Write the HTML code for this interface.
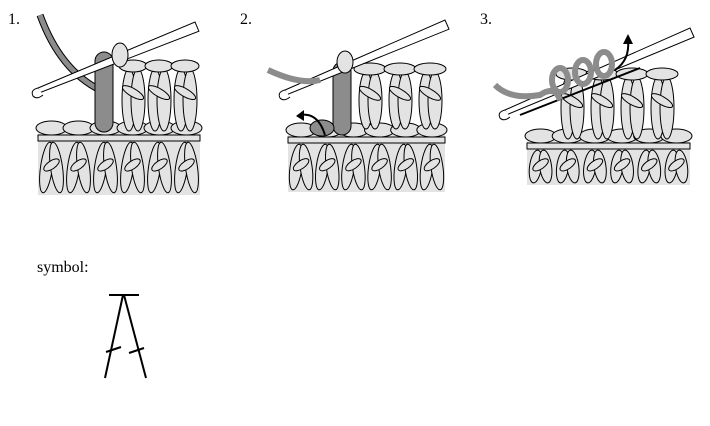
<!DOCTYPE html>
<html><head><meta charset="utf-8"><style>
body{margin:0;background:#fff;width:710px;height:426px;overflow:hidden}
svg{display:block}
text{font-family:"Liberation Serif",serif;font-size:16px;fill:#000}
</style></head><body>
<svg id="s" width="710" height="426" viewBox="0 0 710 426" xmlns="http://www.w3.org/2000/svg">
<text x="8" y="24">1.</text>
<text x="240" y="24">2.</text>
<text x="480" y="24">3.</text>
<text x="37" y="272">symbol:</text>
<g id="sym" stroke="#000" stroke-width="2" fill="none">
<line x1="109" y1="295" x2="139" y2="295"/>
<line x1="123" y1="295" x2="105" y2="378"/>
<line x1="124" y1="295" x2="146" y2="378"/>
<line x1="106" y1="352" x2="121" y2="347"/>
<line x1="129" y1="353" x2="144" y2="348"/>
</g>
</svg>
<script>
const S=document.getElementById('s');const NS='http://www.w3.org/2000/svg';
function el(t,a,p){const e=document.createElementNS(NS,t);for(const k in a)e.setAttribute(k,a[k]);(p||S).appendChild(e);return e;}
const F='#e3e3e3',G='#8c8c8c';
function base(x0,x1,y0,y1,name){
 const g=el('g',{});
 
 
 el('rect',{x:x0,y:y0+10,width:x1-x0,height:y1-y0-10,fill:F},g);
 const n=Math.round((x1-x0)/26);const w=(x1-x0)/n;
 for(let i=0;i<n;i++){const cx=x0+w*i+w/2;
  el('ellipse',{cx:cx,cy:y0+8,rx:w/2+2,ry:7,fill:F,stroke:'#000','stroke-width':1},g);}
 el('rect',{x:x0,y:y0+15,width:x1-x0,height:6,fill:F,stroke:'#000','stroke-width':1},g);
 for(let i=0;i<n;i++){const cx=x0+w*i+w/2,h=(y1-y0-24);
  el('ellipse',{cx:cx-5,cy:y0+22+h/2,rx:6,ry:h/2,fill:F,stroke:'#000','stroke-width':1,transform:`rotate(8 ${cx-5} ${y0+22+h/2})`},g);
  el('ellipse',{cx:cx+5,cy:y0+22+h/2,rx:6,ry:h/2,fill:F,stroke:'#000','stroke-width':1,transform:`rotate(-8 ${cx+5} ${y0+22+h/2})`},g);
  el('ellipse',{cx:cx,cy:y0+22+h*0.45,rx:9,ry:4,fill:F,stroke:'#000','stroke-width':1,transform:`rotate(-35 ${cx} ${y0+22+h*0.45})`},g);}
}
function tall(x0,n,w,y0,y1,name){
 const g=el('g',{});
 
 
 for(let i=0;i<n;i++){const cx=x0+w*i+w/2,h=y1-y0;
  el('ellipse',{cx:cx-4,cy:y0+h/2+4,rx:7,ry:h/2-3,fill:F,stroke:'#000','stroke-width':1},g);
  el('ellipse',{cx:cx+5,cy:y0+h/2+4,rx:7,ry:h/2-3,fill:F,stroke:'#000','stroke-width':1},g);
  el('ellipse',{cx:cx,cy:y0+h*0.45,rx:12,ry:4,fill:F,stroke:'#000','stroke-width':1,transform:`rotate(30 ${cx} ${y0+h*0.45})`},g);
  el('ellipse',{cx:cx,cy:y0+4,rx:w/2+1,ry:6,fill:F,stroke:'#000','stroke-width':1},g);}
}
function hook(x0,y0,x1,y1,name){
 const g=el('g',{});
 
 
 const dx=x1-x0,dy=y1-y0,L=Math.hypot(dx,dy),nx=-dy/L*5,ny=dx/L*5;
 el('polygon',{points:`${x0},${y0} ${x1},${y1} ${x1+nx*2},${y1+ny*2} ${x0+nx},${y0+ny}`,fill:'#fff',stroke:'#000','stroke-width':1},g);
 el('path',{d:`M${x0} ${y0} q-8 2 -5 8 q4 4 10 -1`,fill:'#fff',stroke:'#000','stroke-width':1},g);
}
function gcol(x,y0,y1,name){
 const e=el('rect',{x:x,y:y0,width:18,height:y1-y0,rx:9,fill:G,stroke:'#000','stroke-width':1});
 
 
}
// Panel 1
base(38,200,120,195,'panel-1-base-row');
tall(120,3,26,62,130,'panel-1-stitches');
const y1=el('path',{d:'M40 15 Q60 70 100 90',fill:'none',stroke:'#000','stroke-width':7});

el('path',{d:'M40 15 Q60 70 100 90',fill:'none',stroke:G,'stroke-width':5});
gcol(95,52,132,'panel-1-yarn-loop');
hook(38,88,195,22,'panel-1-hook');
el('ellipse',{cx:120,cy:55,rx:8,ry:12,fill:F,stroke:'#000','stroke-width':1});
// Panel 2
base(288,445,122,192,'panel-2-base-row');
tall(355,3,30,65,128,'panel-2-stitches');
gcol(333,62,135,'panel-2-yarn-loop');
el('ellipse',{cx:322,cy:128,rx:12,ry:8,fill:G,stroke:'#000','stroke-width':1});
hook(285,90,445,20,'panel-2-hook');
el('path',{d:'M268 70 Q300 85 320 80',fill:'none',stroke:G,'stroke-width':6});
el('ellipse',{cx:345,cy:62,rx:8,ry:11,fill:F,stroke:'#000','stroke-width':1});
const a2=el('path',{d:'M325 135 Q318 112 300 115',fill:'none',stroke:'#000','stroke-width':2});

el('polygon',{points:'296,116 304,110 304,121',fill:'#000'});
// Panel 3
base(527,690,128,185,'panel-3-base-row');
tall(557,4,30,70,138,'panel-3-stitches');
hook(505,110,690,28,'panel-3-hook');
el('line',{x1:520,y1:115,x2:640,y2:68,stroke:'#000','stroke-width':2});
el('path',{d:'M495 85 Q510 100 540 95 Q555 85 560 100',fill:'none',stroke:G,'stroke-width':6});
[560,583,604].forEach((x,i)=>{const e=el('ellipse',{cx:x,cy:80-i*8,rx:8,ry:12,fill:'none',stroke:G,'stroke-width':6});
 });
el('path',{d:'M615 70 Q630 60 628 40',fill:'none',stroke:'#000','stroke-width':2});
el('polygon',{points:'628,34 623,44 633,44',fill:'#000'});
</script>
</body></html>
